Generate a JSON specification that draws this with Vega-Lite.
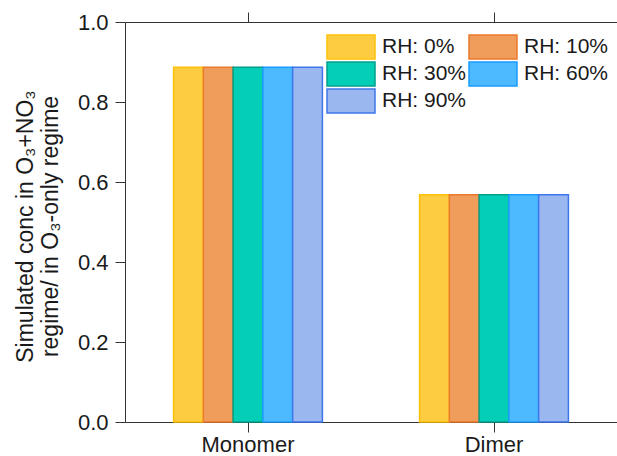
{
  "$schema": "https://vega.github.io/schema/vega-lite/v6.json",
  "width": 492,
  "height": 400,
  "autosize": {"type": "none"},
  "padding": {"left": 125, "top": 22, "right": 0, "bottom": 34},
  "background": "white",
  "data": {
    "values": [
      {"species": "Monomer", "rh": "RH: 0%", "ratio": 0.887},
      {"species": "Monomer", "rh": "RH: 10%", "ratio": 0.887},
      {"species": "Monomer", "rh": "RH: 30%", "ratio": 0.887},
      {"species": "Monomer", "rh": "RH: 60%", "ratio": 0.887},
      {"species": "Monomer", "rh": "RH: 90%", "ratio": 0.887},
      {"species": "Dimer", "rh": "RH: 0%", "ratio": 0.568},
      {"species": "Dimer", "rh": "RH: 10%", "ratio": 0.568},
      {"species": "Dimer", "rh": "RH: 30%", "ratio": 0.568},
      {"species": "Dimer", "rh": "RH: 60%", "ratio": 0.568},
      {"species": "Dimer", "rh": "RH: 90%", "ratio": 0.568}
    ]
  },
  "layer": [
    {
      "mark": {"type": "bar", "strokeWidth": 1.5},
      "encoding": {
        "x": {
          "field": "species",
          "type": "nominal",
          "sort": ["Monomer", "Dimer"],
          "scale": {"paddingInner": 0.395, "paddingOuter": 0.1975},
          "axis": {
            "title": null,
            "labelAngle": 0,
            "labelFontSize": 22,
            "labelPadding": 2,
            "tickSize": 10,
            "tickColor": "#333333",
            "domainColor": "#333333",
            "labelColor": "#1a1a1a"
          }
        },
        "xOffset": {
          "field": "rh",
          "type": "nominal",
          "sort": ["RH: 0%", "RH: 10%", "RH: 30%", "RH: 60%", "RH: 90%"]
        },
        "y": {
          "field": "ratio",
          "type": "quantitative",
          "scale": {"domain": [0, 1], "nice": false},
          "axis": {
            "title": ["Simulated conc in O₃+NO₃", "regime/ in O₃-only regime"],
            "titleFontSize": 23,
            "titleFontWeight": "normal",
            "titleLineHeight": 25,
            "titleColor": "#1a1a1a",
            "titleAngle": -90,
            "titleAlign": "center",
            "titleBaseline": "alphabetic",
            "titleX": -93,
            "titleY": 204,
            "values": [0, 0.2, 0.4, 0.6, 0.8, 1.0],
            "format": ".1f",
            "labelFontSize": 22,
            "labelPadding": 7,
            "labelColor": "#1a1a1a",
            "tickSize": 10,
            "tickColor": "#333333",
            "domainColor": "#333333",
            "grid": false
          }
        },
        "fill": {
          "field": "rh",
          "type": "nominal",
          "sort": ["RH: 0%", "RH: 10%", "RH: 30%", "RH: 60%", "RH: 90%"],
          "scale": {
            "domain": ["RH: 0%", "RH: 10%", "RH: 30%", "RH: 60%", "RH: 90%"],
            "range": ["#FECC40", "#F09D5B", "#05CEB6", "#4DBAFF", "#9AB7F0"]
          },
          "legend": {
            "title": null,
            "orient": "none",
            "legendX": 201,
            "legendY": 12,
            "columns": 2,
            "direction": "horizontal",
            "symbolType": "M-1,-0.5H1V0.5H-1Z",
            "symbolSize": 2304,
            "symbolStrokeWidth": 1.5,
            "labelFontSize": 21,
            "labelColor": "#1a1a1a",
            "labelOffset": 6,
            "columnPadding": 1,
            "rowPadding": 1,
            "clipHeight": 26,
            "padding": 0
          }
        },
        "stroke": {
          "field": "rh",
          "type": "nominal",
          "sort": ["RH: 0%", "RH: 10%", "RH: 30%", "RH: 60%", "RH: 90%"],
          "scale": {
            "domain": ["RH: 0%", "RH: 10%", "RH: 30%", "RH: 60%", "RH: 90%"],
            "range": ["#FFC107", "#EA7A2F", "#009E8A", "#1A9BFF", "#3F77EA"]
          },
          "legend": {
            "title": null,
            "orient": "none",
            "legendX": 201,
            "legendY": 12,
            "columns": 2,
            "direction": "horizontal",
            "symbolType": "M-1,-0.5H1V0.5H-1Z",
            "symbolSize": 2304,
            "symbolStrokeWidth": 1.5,
            "labelFontSize": 21,
            "labelColor": "#1a1a1a",
            "labelOffset": 6,
            "columnPadding": 1,
            "rowPadding": 1,
            "clipHeight": 26,
            "padding": 0
          }
        }
      }
    },
    {
      "mark": {"type": "tick", "opacity": 0},
      "encoding": {
        "x": {
          "field": "species",
          "type": "nominal",
          "sort": ["Monomer", "Dimer"],
          "axis": {
            "orient": "top",
            "title": null,
            "labels": false,
            "tickSize": 10,
            "tickColor": "#333333",
            "domainColor": "#333333"
          }
        }
      }
    }
  ],
  "resolve": {"axis": {"x": "independent"}},
  "config": {
    "font": "Liberation Sans",
    "view": {"stroke": null},
    "axis": {"domainWidth": 1, "tickWidth": 1}
  }
}
